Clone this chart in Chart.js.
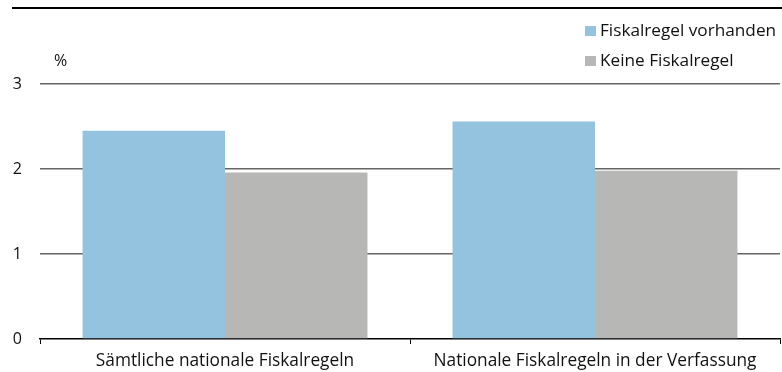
<!DOCTYPE html>
<html>
<head>
<meta charset="utf-8">
<script src="https://cdn.jsdelivr.net/npm/chart.js@4"></script>
<style>
  html, body { margin: 0; padding: 0; background: #fff; }
  #wrap { width: 782px; height: 372px; position: relative; }
</style>
</head>
<body>
<div id="wrap"><canvas id="c" width="782" height="372"></canvas></div>
<script>
// Categories and series (growth rate, %)
const categories = ['Sämtliche nationale Fiskalregeln', 'Nationale Fiskalregeln in der Verfassung'];
const withRule = [2.45, 2.56];
const withoutRule = [1.96, 1.98];
const seriesNames = ['Fiskalregel vorhanden', 'Keine Fiskalregel'];
const yTicks = [0, 1, 2, 3];
const unitLabel = '%';

const FONT = '"Open Sans", "Noto Sans", sans-serif';
const BLUE = '#94c3e0';
const GREY = '#b7b7b6';

// Top rule, unit label and a stacked legend in the upper right
const decorations = {
  id: 'decorations',
  afterDraw(chart) {
    const ctx = chart.ctx;
    ctx.save();
    ctx.strokeStyle = '#000';
    ctx.lineWidth = 2;
    ctx.beginPath();
    ctx.moveTo(12, 8);
    ctx.lineTo(782, 8);
    ctx.stroke();

    ctx.fillStyle = '#111';
    ctx.font = '16px ' + FONT;
    ctx.textBaseline = 'middle';
    ctx.textAlign = 'left';
    ctx.fillText(unitLabel, 54, 61);

    chart.data.datasets.forEach((ds, i) => {
      const y = 31 + i * 30;
      ctx.fillStyle = ds.backgroundColor;
      ctx.fillRect(585, y - 5, 11, 10);
      ctx.fillStyle = '#111';
      ctx.font = '17.2px ' + FONT;
      ctx.fillText(ds.label, 600, y);
    });
    ctx.restore();
  }
};

new Chart(document.getElementById('c'), {
  type: 'bar',
  data: {
    labels: categories,
    datasets: [
      { label: seriesNames[0], data: withRule, backgroundColor: BLUE },
      { label: seriesNames[1], data: withoutRule, backgroundColor: GREY }
    ]
  },
  options: {
    responsive: false,
    animation: false,
    events: [],
    layout: { padding: { top: 84, right: 2, bottom: 0, left: 0 } },
    datasets: { bar: { categoryPercentage: 0.77, barPercentage: 1.0, borderWidth: 0 } },
    plugins: {
      legend: { display: false },
      tooltip: { enabled: false },
      title: { display: false }
    },
    scales: {
      x: {
        afterFit(scale) { scale.height = 33; },
        grid: {
          offset: true,
          drawOnChartArea: false,
          drawTicks: true,
          tickLength: 5,
          color: '#000',
          lineWidth: 1
        },
        border: { display: true, color: '#000', width: 1.5 },
        ticks: {
          color: '#111',
          font: { family: FONT, size: 17.3 },
          padding: 7,
          maxRotation: 0,
          autoSkip: false
        }
      },
      y: {
        min: 0,
        max: 3,
        afterFit(scale) { scale.width = 40; },
        afterBuildTicks(scale) { scale.ticks = yTicks.map(v => ({ value: v })); },
        border: { display: false },
        grid: {
          drawTicks: false,
          color: ctx => (ctx.tick && ctx.tick.value === 0) ? 'rgba(0,0,0,0)' : '#666',
          lineWidth: 1.5
        },
        ticks: {
          color: '#111',
          font: { family: FONT, size: 16 },
          padding: 18
        }
      }
    }
  },
  plugins: [decorations]
});
</script>
</body>
</html>
